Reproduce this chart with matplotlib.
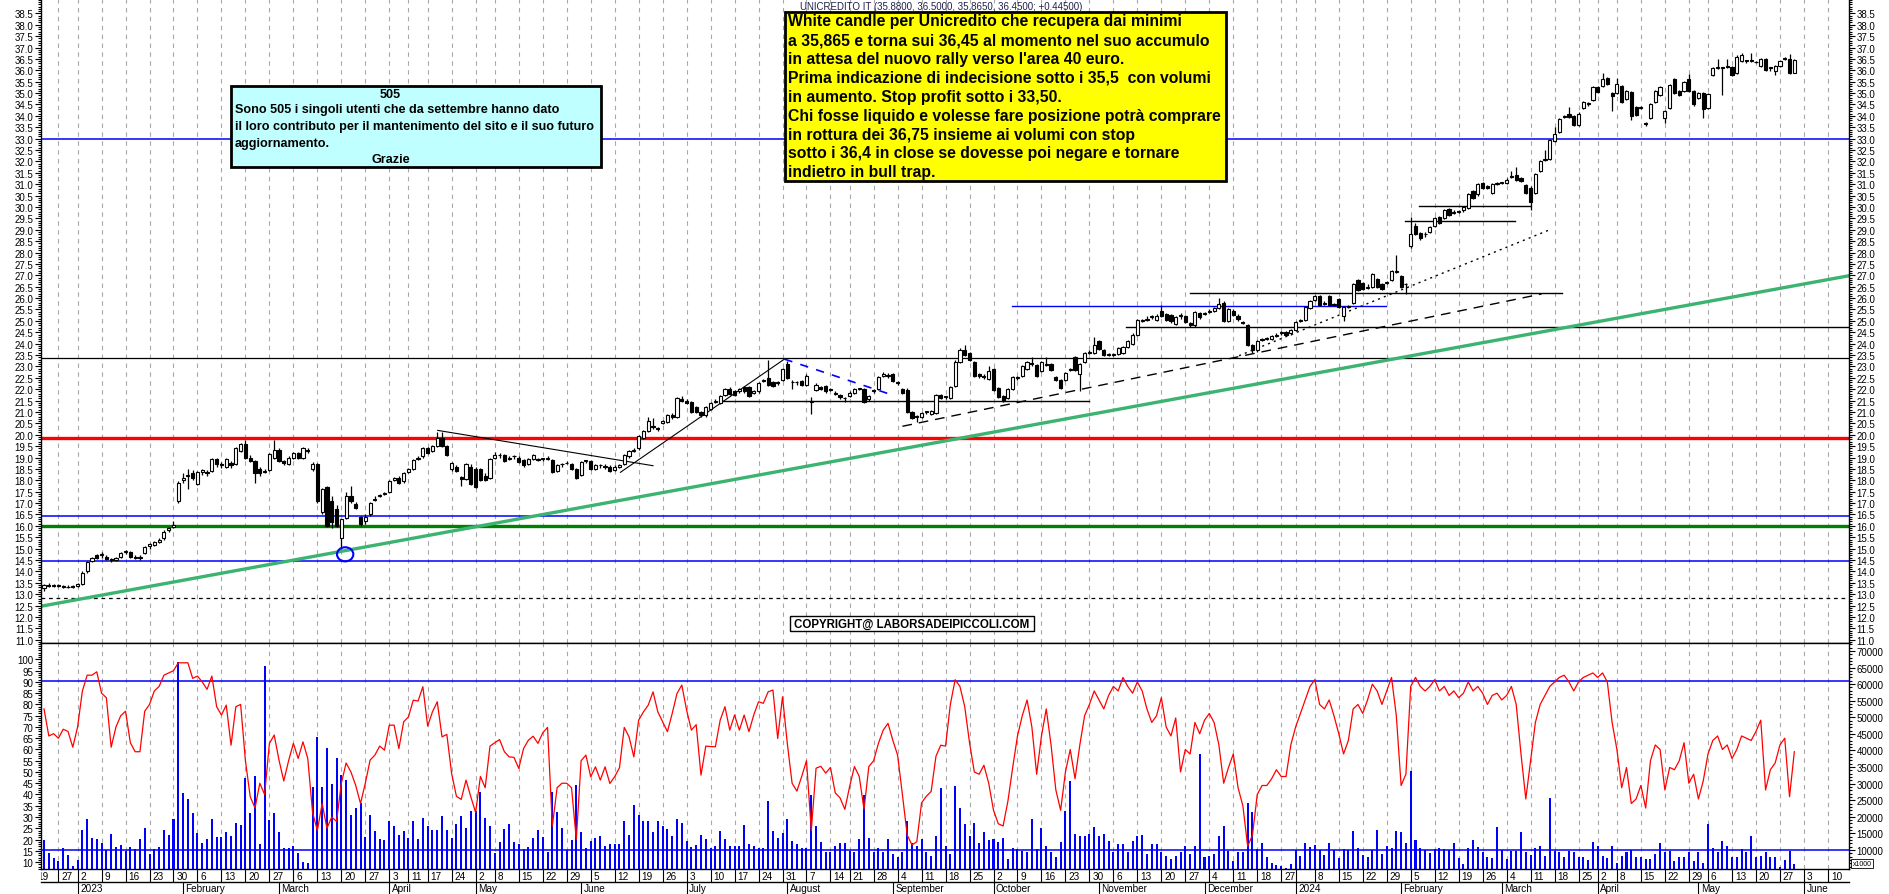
import numpy as np
import pandas as pd
import matplotlib
matplotlib.use("Agg")
import matplotlib.pyplot as plt
from matplotlib.patches import Rectangle, Ellipse
from matplotlib.ticker import MultipleLocator, FormatStrFormatter
from matplotlib import font_manager

plt.rcParams['font.family'] = ['Liberation Sans', 'DejaVu Sans']

# Trading calendar (Borsa Italiana), one slot per session
holidays = pd.to_datetime(['2022-12-26', '2023-04-07', '2023-04-10', '2023-05-01',
                           '2023-08-15', '2023-12-25', '2023-12-26', '2024-01-01',
                           '2024-03-29', '2024-04-01', '2024-05-01'])
days = pd.bdate_range('2022-12-19', '2024-06-14')
days = days[~days.isin(holidays)]
first_bar = list(days).index(pd.Timestamp('2022-12-21'))

# Daily candles, one row per week
o = [13.25,13.40,13.35,
     13.40,13.35,13.30,13.30,
     13.35,13.45,14.00,14.45,14.70, 14.70,14.65,14.50,14.50,14.65,
     14.85,14.85,14.60,14.65,14.80, 15.10,15.15,15.30,15.45,15.80,
     15.95,17.10,18.00,18.20,18.30, 17.85,18.35,18.35,18.40,18.95,
     18.70,18.60,18.75,18.70,19.30, 19.60,19.00,18.85,18.50,18.35,
     18.45,19.00,19.35,18.85,18.70, 19.00,19.20,19.00,19.35,18.50,
     18.70,16.60,17.70,17.10,16.75, 15.45,16.35,17.30,16.95,16.40,
     16.20,16.50,17.15,17.30,17.40, 17.50,18.00,18.10,17.95,
     18.35,18.50,18.95,19.05, 19.40,19.30,19.50,19.85,19.50,
     18.50,18.60,18.15,18.05,18.60, 18.50,18.50,18.20,18.10,
     19.00,19.10,19.10,18.95,19.05, 19.00,18.90,18.70,18.95,18.95,
     18.95,18.95,18.90,18.40,18.70, 18.75,18.70,18.50,18.25,18.85,
     18.85,18.50,18.65,18.60,18.60, 18.45,18.60,18.70,19.05,19.30,
     19.40,19.85,20.15,20.40,20.30, 20.50,20.55,20.85,20.80,21.55,
     21.50,21.45,21.20,21.00,20.85, 21.15,21.45,21.40,21.75,22.00,
     21.90,21.90,22.10,22.10,21.85, 21.90,22.35,22.50,22.30,22.25,
     22.40,23.10,22.30,22.30,22.35, 22.20,21.50,21.95,22.10,22.15,
     22.00,21.85,21.75,21.60, 21.70,21.85,22.00,22.00,21.55,
     21.90,22.00,22.60,22.60,22.65, 22.30,22.00,21.95,21.00,20.80,
     20.80,21.00,20.90,20.95,21.75, 21.65,21.60,22.15,23.20,23.70,
     23.60,23.20,22.65,22.60,22.45, 22.90,22.05,21.70,21.60,22.00,
     22.55,22.60,22.90,23.15,23.05, 22.80,23.10,23.10,22.55,22.40,
     22.40,22.85,23.40,22.65,23.20, 23.60,23.60,24.10,23.70,23.50,
     23.50,23.55,23.60,23.85,24.00, 24.40,25.00,25.05,25.15,25.05,
     25.45,25.30,25.25,24.85,25.20, 25.20,24.90,24.80,25.35,25.30,
     25.40,25.45,25.55,25.80,25.00, 25.45,25.20,24.95,24.80,23.95,
     23.70,24.15,24.20,24.20,24.35, 24.45,24.50,24.45,
     24.60,25.00,25.05,25.55, 25.90,26.10,25.75,26.10,25.70,
     25.95,25.20,25.60,25.80,26.80, 26.65,26.45,26.50,26.85,26.60,
     26.65,26.80,27.15,26.95,26.60, 28.30,29.15,28.85,28.80,28.90,
     29.15,29.55,29.50,29.90,29.75, 29.80,29.85,29.95,30.70,30.55,
     31.05,30.90,30.60,31.00,31.05, 31.05,31.30,31.40,31.25,30.95,
     30.85,30.60,31.60,32.05,32.10, 32.90,33.30,33.95,34.10,34.00,
     33.60,34.35,34.50,34.70, 35.25,35.30,35.65,35.00,
     35.00,35.30,34.75,35.05,34.40, 34.35,33.65,33.90,34.60,34.90,
     33.90,34.35,35.60,35.10,35.10, 35.60,35.10,34.80,35.00,
     34.35,35.80,36.10,36.10,36.15, 36.15,35.90,36.40,36.40,36.40,
     36.35,36.20,36.50,36.10,35.95, 36.20,36.50,36.50,35.88]
h = [13.45,13.50,13.45,
     13.45,13.40,13.40,13.40,
     13.50,14.00,14.45,14.65,14.75, 14.85,14.70,14.60,14.65,14.85,
     14.95,14.90,14.70,14.70,15.10, 15.25,15.35,15.45,15.80,15.95,
     16.20,17.95,18.30,18.50,18.45, 18.40,18.50,18.45,19.00,19.00,
     18.80,19.00,18.85,19.45,19.65, 19.75,19.10,18.90,18.60,18.50,
     19.20,19.75,19.40,18.90,19.05, 19.25,19.25,19.45,19.40,18.80,
     18.75,17.65,17.75,17.30,16.90, 16.30,17.50,17.75,17.05,16.45,
     16.50,17.05,17.30,17.40,17.50, 18.00,18.15,18.20,18.35,
     18.55,18.95,19.05,19.45, 19.45,19.55,20.10,20.10,19.55,
     18.80,18.65,18.20,18.75,18.70, 18.60,18.55,18.30,19.00,
     19.25,19.20,19.15,19.05,19.10, 19.05,18.95,19.00,19.15,19.00,
     19.00,19.05,18.95,18.70,18.75, 18.85,18.75,18.55,18.85,18.90,
     18.90,18.70,18.70,18.70,18.65, 18.65,18.70,19.15,19.35,19.40,
     20.00,20.20,20.80,20.75,20.35, 20.65,20.90,20.95,21.65,21.70,
     21.55,21.50,21.25,21.05,21.25, 21.45,21.55,21.75,22.05,22.10,
     21.95,22.05,22.15,22.15,21.95, 22.30,22.45,23.30,22.35,22.35,
     22.95,23.25,22.40,22.35,22.40, 22.65,21.65,22.25,22.15,22.20,
     22.05,21.90,21.80,21.65, 21.90,22.05,22.05,22.05,21.75,
     22.00,22.60,22.75,22.70,22.70, 22.35,22.05,22.05,21.05,20.85,
     21.00,21.05,21.10,21.80,21.80, 21.70,22.15,23.30,23.80,23.95,
     23.65,23.25,22.70,22.65,23.00, 22.95,22.10,21.75,22.05,22.60,
     22.60,23.05,23.25,23.40,23.10, 23.25,23.40,23.15,22.60,22.45,
     22.75,22.95,23.45,23.15,23.65, 23.70,24.30,24.15,23.75,23.60,
     23.60,23.85,23.90,24.15,24.45, 25.10,25.10,25.20,25.25,25.30,
     25.70,25.35,25.30,25.20,25.35, 25.25,24.95,25.45,25.40,25.40,
     25.50,25.60,26.00,25.85,25.55, 25.50,25.30,25.00,24.85,24.00,
     24.15,24.25,24.30,24.40,24.45, 24.55,24.55,24.65,
     25.00,25.10,25.65,25.90, 26.15,26.15,25.85,26.15,25.80,
     26.00,25.65,25.70,26.65,26.85, 26.70,26.60,27.10,26.90,26.65,
     26.75,27.25,27.90,27.00,26.65, 29.55,29.30,28.90,28.90,29.15,
     29.55,29.60,29.90,29.95,29.85, 29.85,30.05,30.60,30.75,31.05,
     31.10,30.95,31.05,31.10,31.10, 31.25,31.60,31.75,31.30,31.00,
     30.90,31.50,32.05,32.50,33.00, 33.50,33.90,34.05,34.40,34.05,
     34.15,34.65,34.60,35.30, 35.30,35.90,35.70,35.05,
     35.65,35.35,35.15,35.10,34.45, 34.45,33.75,34.55,35.15,35.30,
     34.25,35.40,35.65,35.15,35.55, 35.85,35.15,35.05,35.05,
     35.00,36.15,36.50,36.15,36.50, 36.20,36.65,36.75,36.45,36.75,
     36.40,36.55,36.55,36.15,36.25, 36.45,36.60,36.70,36.50]
l = [13.15,13.30,13.30,
     13.30,13.25,13.25,13.25,
     13.30,13.40,13.95,14.40,14.55, 14.60,14.50,14.40,14.45,14.60,
     14.75,14.60,14.55,14.50,14.75, 15.00,15.10,15.25,15.40,15.75,
     15.90,17.00,17.90,17.60,18.00, 17.80,18.25,18.20,18.35,18.60,
     18.55,18.55,18.55,18.65,19.25, 18.95,18.80,17.90,18.20,18.30,
     18.40,18.95,18.80,18.65,18.65, 18.95,18.95,18.95,19.20,18.40,
     17.00,16.50,15.95,15.90,15.95, 15.00,16.30,17.00,16.75,16.00,
     16.10,16.45,17.10,17.25,17.35, 17.45,17.95,17.85,17.90,
     18.30,18.45,18.90,19.00, 19.15,19.25,19.45,19.45,19.05,
     18.40,18.35,17.75,18.00,17.80, 17.65,17.95,17.95,18.05,
     18.95,19.00,18.80,18.90,18.95, 18.75,18.60,18.65,18.90,18.85,
     18.85,18.90,18.30,18.35,18.60, 18.70,18.45,18.05,18.20,18.75,
     18.45,18.45,18.55,18.50,18.35, 18.40,18.55,18.65,19.00,19.25,
     19.35,19.80,20.10,20.25,20.15, 20.45,20.50,20.70,20.75,21.45,
     21.35,20.95,20.95,20.80,20.80, 21.10,21.40,21.35,21.70,21.75,
     21.70,21.85,21.85,21.65,21.80, 21.85,22.30,22.15,22.10,22.20,
     22.35,22.45,22.00,22.20,22.15, 22.15,20.90,21.90,21.95,21.85,
     21.90,21.75,21.55,21.45, 21.65,21.80,21.95,21.40,21.50,
     21.85,21.95,22.55,22.50,22.30, 22.20,21.80,20.95,20.70,20.55,
     20.75,20.90,20.85,20.90,21.55, 21.55,21.55,22.10,23.15,23.45,
     23.25,22.55,22.50,22.45,22.40, 21.90,21.60,21.45,21.55,21.95,
     22.40,22.55,22.85,23.00,22.55, 22.75,23.00,22.80,22.35,22.00,
     22.35,22.80,22.80,21.90,23.15, 23.55,23.55,23.70,23.45,23.45,
     23.45,23.50,23.55,23.80,23.95, 24.35,24.95,25.00,25.10,25.00,
     25.15,25.00,24.90,24.80,25.10, 24.90,24.75,24.75,25.10,25.25,
     25.35,25.40,25.50,24.95,24.95, 25.20,25.00,24.85,23.90,23.60,
     23.65,24.10,24.15,24.15,24.30, 24.40,24.35,24.40,
     24.55,24.95,25.00,25.50, 25.85,25.65,25.70,25.65,25.65,
     25.55,25.00,25.55,25.75,26.30, 26.35,26.40,26.45,26.45,26.35,
     26.60,26.75,27.10,26.45,26.20, 28.20,28.75,28.55,28.70,28.85,
     29.10,29.25,29.45,29.60,29.70, 29.75,29.80,29.90,30.35,30.50,
     30.80,30.80,30.55,30.95,31.00, 31.00,31.25,31.15,31.10,30.55,
     29.85,30.55,31.55,32.00,32.05, 32.85,33.25,33.90,33.90,33.55,
     33.55,34.30,34.45,34.65, 35.00,35.25,35.35,34.20,
     34.95,34.55,34.70,33.80,34.00, 34.30,33.55,33.85,34.55,34.85,
     33.70,34.30,34.95,34.85,35.05, 35.05,34.45,34.75,33.90,
     34.30,35.75,36.05,34.90,36.10, 35.75,35.85,36.35,36.30,36.35,
     36.30,36.15,35.95,35.95,35.80, 36.15,36.45,35.85,35.865]
c = [13.40,13.35,13.40,
     13.35,13.30,13.30,13.35,
     13.45,13.95,14.40,14.60,14.60, 14.75,14.55,14.50,14.60,14.80,
     14.85,14.65,14.60,14.60,15.05, 15.20,15.30,15.40,15.75,15.90,
     16.05,17.90,18.10,18.25,18.10, 18.35,18.45,18.30,18.95,18.70,
     18.65,18.95,18.65,19.40,19.60, 19.00,18.85,18.30,18.30,18.40,
     19.15,19.35,18.85,18.75,19.00, 19.20,19.00,19.40,19.30,18.70,
     17.10,17.60,16.00,16.15,16.00, 16.30,17.30,17.10,16.80,16.10,
     16.40,17.00,17.20,17.35,17.45, 17.95,18.10,17.90,18.30,
     18.50,18.90,19.00,19.40, 19.20,19.50,19.85,19.50,19.10,
     18.75,18.40,18.05,18.70,17.85, 17.70,18.00,18.00,18.95,
     19.10,19.10,18.85,19.00,19.05, 18.80,18.65,18.95,19.10,18.90,
     18.95,18.95,18.35,18.65,18.70, 18.75,18.50,18.10,18.80,18.85,
     18.50,18.65,18.65,18.60,18.40, 18.60,18.65,19.10,19.30,19.35,
     19.95,20.15,20.60,20.35,20.25, 20.60,20.85,20.80,21.60,21.50,
     21.40,21.00,21.00,20.85,21.20, 21.40,21.50,21.70,22.00,21.80,
     21.75,22.00,21.90,21.70,21.90, 22.25,22.40,22.20,22.15,22.30,
     22.90,22.50,22.30,22.30,22.20, 22.60,21.45,22.20,22.00,21.90,
     21.95,21.80,21.65,21.60, 21.85,22.00,22.00,21.45,21.70,
     21.95,22.55,22.65,22.60,22.35, 22.25,21.85,21.00,20.75,20.80,
     20.95,21.00,21.05,21.75,21.60, 21.65,22.10,23.20,23.70,23.50,
     23.30,22.60,22.60,22.55,22.80, 21.95,21.65,21.50,22.00,22.55,
     22.50,23.00,23.20,23.10,22.60, 23.20,23.05,22.85,22.40,22.05,
     22.70,22.90,22.85,23.10,23.60, 23.65,23.95,23.75,23.50,23.55,
     23.55,23.80,23.85,24.10,24.40, 25.05,25.05,25.10,25.20,25.20,
     25.20,25.05,25.00,25.15,25.25, 24.95,24.80,25.40,25.15,25.35,
     25.45,25.55,25.75,25.00,25.50, 25.25,25.10,24.90,23.95,23.70,
     24.10,24.20,24.25,24.35,24.40, 24.50,24.40,24.60,
     24.95,25.05,25.60,25.85, 26.10,25.70,25.80,25.70,25.75,
     25.60,25.60,25.65,26.60,26.35, 26.40,26.50,27.05,26.50,26.40,
     26.70,27.20,27.20,26.50,26.60, 28.80,28.80,28.65,28.80,29.10,
     29.50,29.30,29.85,29.65,29.80, 29.80,30.00,30.55,30.40,31.00,
     30.85,30.85,31.00,31.05,31.05, 31.20,31.35,31.20,31.15,30.60,
     30.20,31.45,32.00,32.10,32.95, 33.20,33.85,34.00,33.95,33.60,
     34.10,34.60,34.55,35.25, 35.05,35.60,35.40,34.85,
     35.40,34.60,35.10,34.00,34.05, 34.40,33.70,34.50,35.10,35.25,
     34.20,35.35,35.00,34.90,35.50, 35.10,34.50,35.00,34.30,
     34.95,36.10,36.15,36.10,36.20, 35.80,36.60,36.65,36.40,36.40,
     36.35,36.50,36.00,36.10,36.20, 36.40,36.50,35.90,36.45]

# Volume in thousands of shares (right scale, x1000)
vol = [13000,9000,7500,
       6800,10500,8600,5300,
       7000,16000,19400,13500,13300, 12000,10000,14800,10800,11500,
       9800,10800,10300,13300,16700, 8800,10300,10800,16000,14500,
       19400,66700,27100,25500,21200, 15000,12100,13300,19400,13800,
       13800,15500,14100,18200,17400, 31600,21200,32300,11800,65400,
       19000,21200,15500,10500,10500, 11100,9000,6300,6100,29000,
       44000,29000,40600,30000,37600, 32600,31100,20400,22700,24200,
       13800,20400,15700,13300,13100, 18700,17200,14500,15700,
       13600,18700,13300,19700, 17200,16000,16000,20200,16000,
       13600,17700,20200,16700,21700, 21700,27400,19700,17200,
       9000,12500,16400,17700,12300, 11800,10300,10800,13500,16000,
       14000,9500,27400,21400,16700, 10000,13000,29600,15300,10500,
       12800,13500,14300,11100,11800, 11800,11800,18700,14500,23500,
       20400,18700,18700,15500,18700, 17200,16200,14300,19200,18200,
       12800,10800,11500,14500,13300, 10500,11300,15700,13300,11100,
       11100,11100,17400,11800,11100, 10500,10500,24900,15700,13500,
       15100,19400,12800,11800,10500, 10500,26600,17200,12500,9500,
       9500,11100,12100,12100, 9800,9300,13300,26600,13500,
       9300,10500,9300,13300,8800, 7800,9300,18700,12100,11100,
       13300,9500,8300,14100,28600, 11100,8800,29300,22700,17900,
       14300,18000,12100,15500,13100, 13300,12500,13500,7300,10500,
       10300,9800,9300,19400,10300, 16700,11300,9300,7800,12300,
       21700,30800,14800,14100,14100, 14800,17000,14100,14800,12800,
       9300,11800,11800,9500,12800, 14100,14500,8800,11800,11800,
       9300,8300,7300,8300,9300, 11300,8800,11300,39000,8000,
       8300,8800,14300,17200,9800, 6800,9300,9300,24200,21400,
       10300,12100,7800,6100,5500, 5100,4600,5800,
       10000,8100,12000,10800, 11500,10100,8500,12100,10000,
       7600,10300,10100,15600,10500, 8500,7800,10100,16100,8800,
       11300,10500,15800,15300,12000, 33800,13000,10500,10100,9100,
       10300,10500,10300,10100,12000, 7500,5800,10500,13000,10800,
       9300,7800,7500,16800,10000, 7300,9800,9800,15300,9300,
       8500,10500,11100,8300,25800, 9800,9300,7800,9800,9300,
       7800,7800,7100,12300, 11300,8300,7500,11300,
       6100,8300,9300,10100,7800, 7800,7300,7300,8800,12000,
       9300,9800,6800,7800,7800, 9300,6800,9300,6000,
       17800,10500,9500,12800,11300, 7800,7800,10300,9300,14300,
       7800,8300,9300,7800,7800, 4800,7100,9800,5800]

# Oscillator (left scale 10-100)
osc = [78,66,67,
       65,69,68,61,
       70,86,93,93,94.5, 85,83,61,70,75,
       77,63,59,59,77, 80,86,88,93,94,
       95,98.5,98.5,98.5,91.6, 92.6,90,86.7,92.6,79,
       75.3,79.7,61.9,79,80, 55,39,34,45,40,
       62.7,66.4,55.3,46,55, 62.7,56,63.4,56,32,
       24,36,25,30,28, 45,54,50,44,36,
       45,55.3,57.5,61.5,59.7, 70.8,70.8,60.4,72.3,
       74.5,81.9,81.5,87.9, 70.4,76.7,81.2,65.6,66.7,
       49.3,39.2,37.8,46.4,39, 32,48,43,61.5,
       63,64.4,59,56.7,56.5, 51.6,60.4,64.1,65.9,62.7,
       67.4,69.8,26,43,45, 45,43,20,55,57.5,
       47.9,52.3,46.4,52.3,44.9, 47.9,51.9,69.8,65.6,56.7,
       73,76.7,79.7,85.6,76.7, 72.3,67.9,76,84.9,88.6,
       77.5,68.6,71,48.6,61.5, 61.3,61.2,73,79,68.6,
       75.3,68.6,75.3,67.9,75.3, 81.2,80.5,85.6,86.4,64.9,
       83.4,62.7,45,41.5,48, 55,24,51.7,52.5,49.5,
       52,40.7,38.5,33.4, 43.6,52.4,48,33.4,52.4,
       55,62.7,68.6,71.6,64.1, 57.5,40,22,17.6,19,
       36.3,39.2,41.4,57,61.9, 61.5,80,91,88,79,
       63,50,49,53,45, 33,27,26,37,52,
       66,75,82,70,49, 66,78,62,42,33,
       50,60,47,62,75, 80,86,82,78,84,
       88,86,92,88,85, 90,86,78,72,75,
       83,70,66,74,50, 60,58,72,67,73,
       76,72,62,45,52, 58,43,35,17,22,
       40,44,44,47,51, 48,48,62,
       70,76,82,88, 91,80,78,82,75,
       67,58,64,78,80, 76,82,89,86,80,
       86,92,75,44,49, 88,92,88,86,88,
       91,86,88,84,86, 83,85,90,86,88,
       85,80,84,85,82, 84,88,80,58,38,
       55,72,80,84,88, 90,92,93,90,86,
       90,92,93,94, 92,94,90,72,
       60,43,52,36,38, 44,34,55,62,60,
       42,52,51,55,63, 45,49,38,46,
       58,64,66,60,62, 56,60,66,65,64,
       68,73,42,51,54, 62,65,39,59]

month_names = ['', 'February', 'March', 'April', 'May', 'June', 'July', 'August',
               'September', 'October', 'November', 'December']

yellow_lines = ["White candle per Unicredito che recupera dai minimi",
                "a 35,865 e torna sui 36,45 al momento nel suo accumulo",
                "in attesa del nuovo rally verso l'area 40 euro.",
                "Prima indicazione di indecisione sotto i 35,5  con volumi",
                "in aumento. Stop profit sotto i 33,50.",
                "Chi fosse liquido e volesse fare posizione potrà comprare",
                "in rottura dei 36,75 insieme ai volumi con stop",
                "sotto i 36,4 in close se dovesse poi negare e tornare",
                "indietro in bull trap."]
cyan_lines = ["Sono 505 i singoli utenti che da settembre hanno dato",
              "il loro contributo per il mantenimento del sito e il suo futuro",
              "aggiornamento."]

o, h, l, c = map(np.array, (o, h, l, c))
vol = np.array(vol)
osc = np.array(osc)
n = len(c)
assert len(o) == len(h) == len(l) == n == len(vol) == len(osc)
x = np.arange(first_bar, first_bar + n)

week_starts = [i for i in range(len(days))
               if i == 0 or days[i].isocalendar()[1] != days[i - 1].isocalendar()[1]]
month_starts = [i for i in range(1, len(days)) if days[i].month != days[i - 1].month]

# Figure in pixel layout
W, H = 1890, 895
fig = plt.figure(figsize=(W / 100, H / 100), dpi=100)

def rect(x0, y0, x1, y1):
    return [x0 / W, 1 - y1 / H, (x1 - x0) / W, (y1 - y0) / H]

xlim = (1.37, 378.4)
ax1 = fig.add_axes(rect(41, 0, 1849, 644))
ax_vol = fig.add_axes(rect(41, 644, 1849, 870))
ax_osc = fig.add_axes(rect(41, 644, 1849, 870))
ax3 = fig.add_axes(rect(41, 870, 1849, 895))
for ax in (ax1, ax_vol, ax_osc, ax3):
    ax.set_xlim(xlim)
    ax.set_xticks([])

grid_kw = dict(color='#a8a8a8', lw=0.8, ls=(0, (4, 4)), zorder=0)
for ws in week_starts:
    ax1.axvline(ws, **grid_kw)
    ax_vol.axvline(ws, **grid_kw)

# ---- price panel
ax1.set_ylim(10.856, 39.13)
ax1.axhline(33.0, color='#0000ff', lw=1.1, zorder=2)
ax1.axhline(23.37, color='k', lw=0.9, zorder=2)
ax1.axhline(19.85, color='#ff0000', lw=2.4, zorder=2)
ax1.axhline(16.45, color='#0000ff', lw=1.1, zorder=2)
ax1.axhline(16.0, color='#008000', lw=2.4, zorder=2)
ax1.axhline(14.46, color='#0000ff', lw=1.1, zorder=2)
ax1.axhline(12.84, color='k', lw=0.9, ls=(0, (3, 3)), zorder=2)

levels = [(227.6, 378.4, 24.71, 'k'), (240.9, 318.6, 26.22, 'k'), (203.8, 281.9, 25.63, '#0000ff'),
          (143.0, 219.9, 21.50, 'k'), (285.8, 308.8, 29.37, 'k'), (288.8, 311.8, 30.03, 'k')]
for x0, x1, yv, col in levels:
    ax1.plot([x0, x1], [yv, yv], color=col, lw=1.0, zorder=2)

ax1.plot([1.37, 378.4], [12.47, 26.98], color='#3cb371', lw=2.4, zorder=2)
ax1.plot([84.1, 129.0], [20.19, 18.64], color='k', lw=0.8, zorder=2)
ax1.plot([122.2, 156.4], [18.35, 23.32], color='k', lw=0.8, zorder=2)
ax1.plot([156.4, 179.4], [23.32, 21.71], color='#0000ff', lw=1.2, ls=(0, (5, 5)), zorder=2)
ax1.plot([181.0, 314.3], [20.37, 26.18], color='k', lw=1.0, ls=(0, (7, 5)), zorder=2)
ax1.plot([251.2, 316.0], [23.47, 29.0], color='k', lw=1.0, ls=(0, (1.5, 3)), zorder=2)
ax1.add_patch(Ellipse((64.8, 14.75), 3.4, 0.62, fill=False, edgecolor='#0000ff', lw=1.5, zorder=5))

# candles
up = c >= o
bot = np.minimum(o, c)
ht = np.maximum(np.abs(c - o), 0.03)
ax1.vlines(x, l, h, color='k', lw=0.9, zorder=3)
ax1.bar(x[up], ht[up], 0.66, bot[up], facecolor='white', edgecolor='k', lw=0.8, zorder=4)
ax1.bar(x[~up], ht[~up], 0.66, bot[~up], facecolor='k', edgecolor='k', lw=0.8, zorder=4)

ax1.set_yticks(np.arange(11.0, 38.51, 0.5))
ax1.yaxis.set_minor_locator(MultipleLocator(0.1))
ax1.yaxis.set_major_formatter(FormatStrFormatter('%.1f'))
ax1.tick_params(axis='y', which='both', left=True, right=True, labelleft=True, labelright=True,
                direction='out', labelsize=7, pad=1.5, width=0.8)
ax1.tick_params(axis='y', which='major', length=4)
ax1.tick_params(axis='y', which='minor', length=2)
ax1.spines['top'].set_visible(False)
for s in ('left', 'right', 'bottom'):
    ax1.spines[s].set_linewidth(1.0)

# ---- volume / oscillator panel
ax_vol.set_ylim(4270, 72400)
ax_vol.bar(x, vol, 0.42, color='#0000ff', zorder=2)
ax_vol.yaxis.tick_right()
ax_vol.set_yticks(np.arange(10000, 70001, 5000))
ax_vol.yaxis.set_minor_locator(MultipleLocator(1000))
ax_vol.yaxis.set_major_formatter(FormatStrFormatter('%d'))
ax_vol.tick_params(axis='y', which='both', direction='out', labelsize=7, pad=1.5, width=0.8)
ax_vol.tick_params(axis='y', which='major', length=4)
ax_vol.tick_params(axis='y', which='minor', length=2)
for s in ax_vol.spines.values():
    s.set_linewidth(1.0)

ax_osc.set_ylim(6.9, 107.3)
ax_osc.patch.set_visible(False)
for s in ax_osc.spines.values():
    s.set_visible(False)
ax_osc.axhline(90.3, color='#0000ff', lw=1.1, zorder=3)
ax_osc.axhline(15.3, color='#0000ff', lw=1.1, zorder=3)
ax_osc.plot(x, osc, color='#ff0000', lw=0.9, zorder=4)
ax_osc.set_yticks(np.arange(10, 101, 5))
ax_osc.yaxis.set_minor_locator(MultipleLocator(1))
ax_osc.tick_params(axis='y', which='both', direction='out', labelsize=7, pad=1.5, width=0.8)
ax_osc.tick_params(axis='y', which='major', length=4)
ax_osc.tick_params(axis='y', which='minor', length=2)

# ---- date rows
ax3.set_ylim(25, 0)
ax3.axis('off')
ax3.plot(xlim, [13, 13], color='k', lw=1.0, clip_on=False)
ax3.vlines(week_starts, 0, 13, color='k', lw=0.8)
ax3.vlines(month_starts, 13, 25, color='k', lw=0.8)
for ws in week_starts:
    d = days[ws]
    if d == pd.Timestamp('2024-01-02'):
        continue
    t = ax3.text(ws + 0.6, 7, str(d.day), fontsize=7.2, ha='left', va='center', clip_on=True)
    t.set_clip_box(ax3.bbox)
for ms in month_starts:
    d = days[ms]
    name = str(d.year) if d.month == 1 else month_names[d.month - 1]
    ax3.text(ms + 0.5, 19.5, name, fontsize=7.2, ha='left', va='center')

# ---- annotations
names = {f.name for f in font_manager.fontManager.ttflist}
narrow = 'Liberation Sans Narrow' in names

def ftext(px, py, s, **kw):
    return fig.text(px / W, 1 - py / H, s, **kw)

fig.patches.append(Rectangle((231 / W, 1 - 168 / H), 370 / W, 81 / H, transform=fig.transFigure,
                             facecolor='#bfffff', edgecolor='k', lw=2, zorder=6))
cy_fam = ['Liberation Sans Narrow', 'Liberation Sans'] if narrow else ['Liberation Sans']
cy_size = 10.6 if narrow else 9.1
ftext(390, 95, "505", ha='center', va='center', fontsize=cy_size, fontweight='bold', family=cy_fam, zorder=7)
for k, s in enumerate(cyan_lines):
    ftext(235, 110.5 + 17 * k, s, ha='left', va='center', fontsize=cy_size, fontweight='bold',
          family=cy_fam, zorder=7)
ftext(391, 160.5, "Grazie", ha='center', va='center', fontsize=cy_size, fontweight='bold', family=cy_fam, zorder=7)

fig.patches.append(Rectangle((785 / W, 1 - 182 / H), 441.5 / W, 169.3 / H, transform=fig.transFigure,
                             facecolor='#ffff00', edgecolor='k', lw=2, zorder=6))
for k, s in enumerate(yellow_lines):
    ftext(788, 21.7 + 18.9 * k, s, ha='left', va='center', fontsize=11.3, fontweight='bold', zorder=7)

ftext(800, 7, "UNICREDITO IT (35.8800, 36.5000, 35.8650, 36.4500; +0.44500)", ha='left', va='center',
      fontsize=7.0, color='#20204a', zorder=7)

fig.patches.append(Rectangle((790 / W, 1 - 632 / H), 244 / W, 15 / H, transform=fig.transFigure,
                             facecolor='white', edgecolor='k', lw=1, zorder=6))
ftext(912, 624.5, "COPYRIGHT@ LABORSADEIPICCOLI.COM", ha='center', va='center', fontsize=8.3,
      fontweight='bold', zorder=7)

ftext(1862, 864.5, "x1000", ha='center', va='center', fontsize=5,
      bbox=dict(boxstyle='square,pad=0.15', facecolor='white', edgecolor='k', lw=0.6))

fig.savefig('out.png', dpi=100)
